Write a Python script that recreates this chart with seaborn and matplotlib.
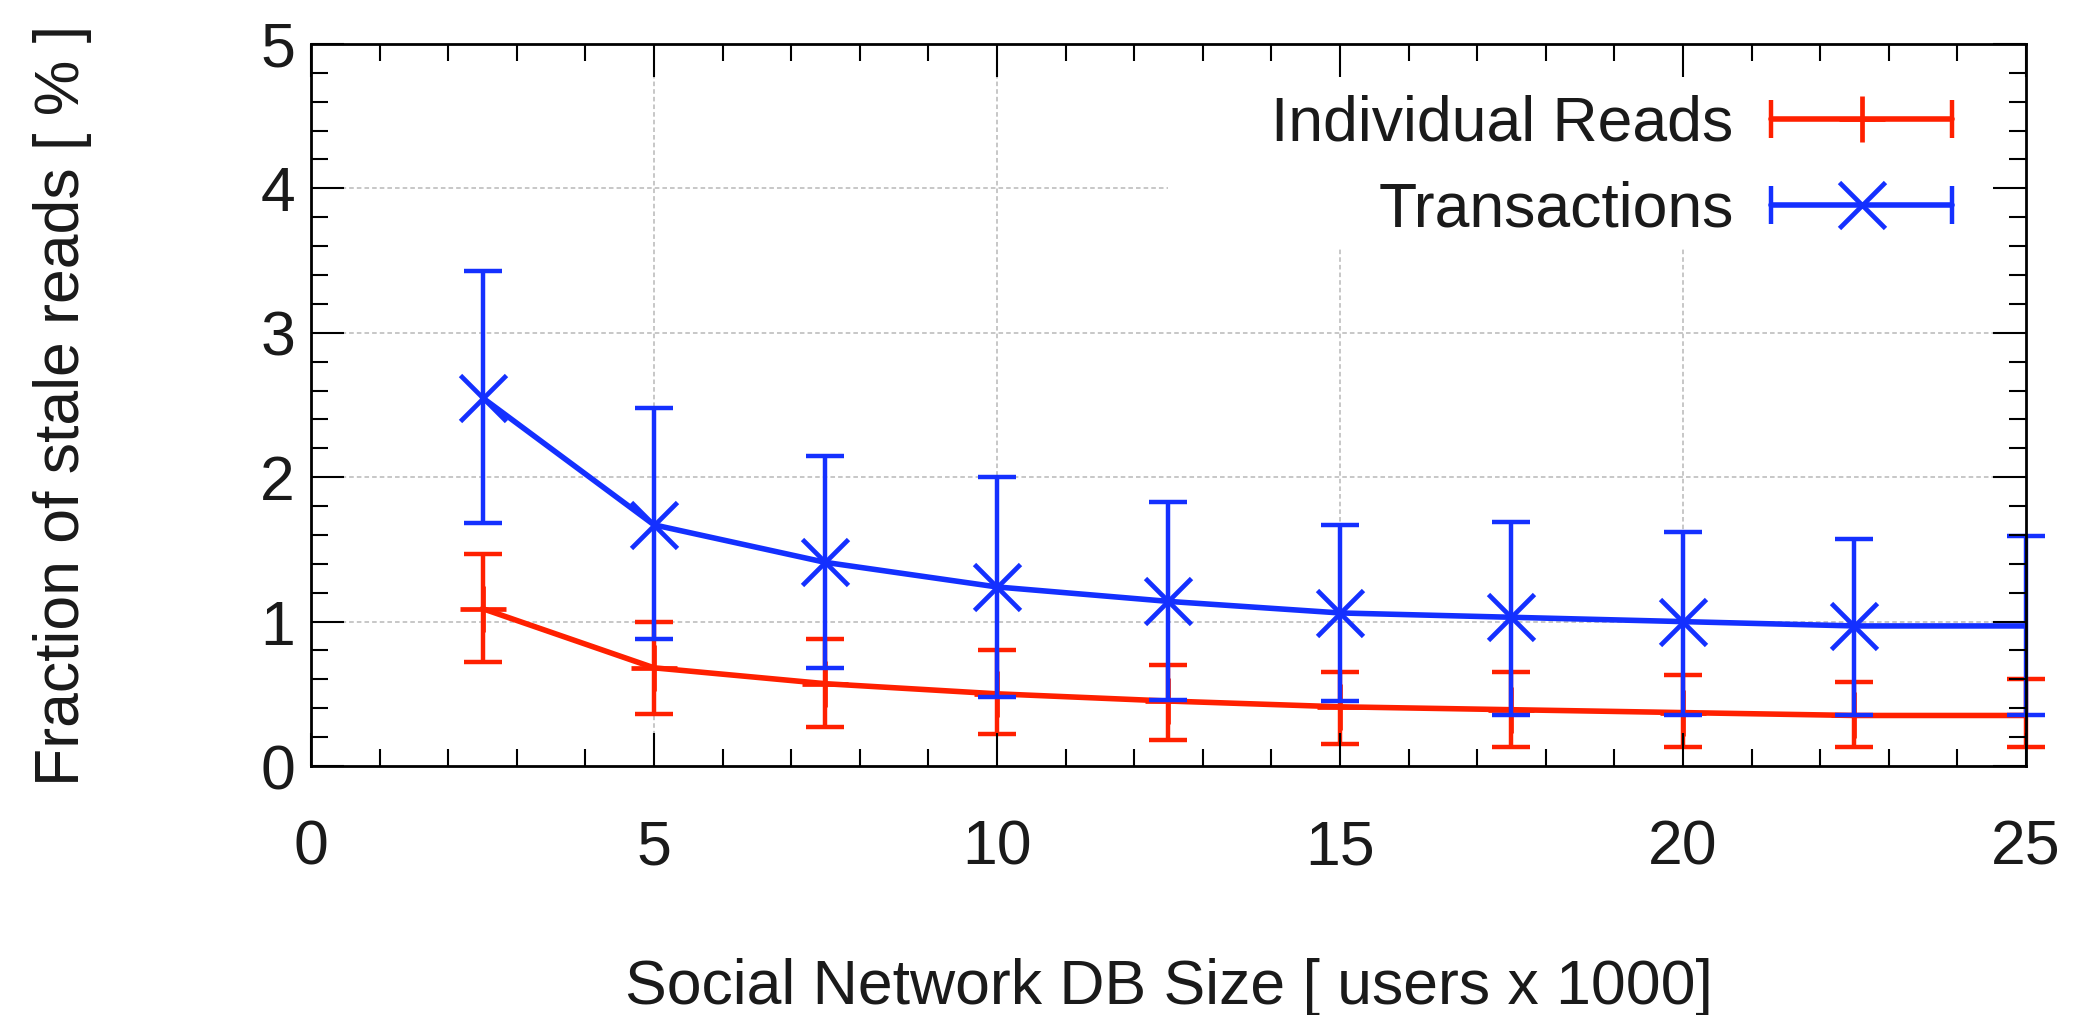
import numpy as np
import pandas as pd
import matplotlib
matplotlib.use("Agg")
import matplotlib.pyplot as plt
import seaborn as sns
from matplotlib.lines import Line2D
from matplotlib.legend_handler import HandlerLine2D
from matplotlib.patches import Rectangle
from matplotlib.ticker import MultipleLocator

# ---------------- data ----------------
db_size = [2.5, 5, 7.5, 10, 12.5, 15, 17.5, 20, 22.5, 25]

ind_mean = [1.09, 0.68, 0.57, 0.50, 0.45, 0.41, 0.39, 0.37, 0.35, 0.35]
ind_low = [0.72, 0.36, 0.27, 0.22, 0.18, 0.15, 0.13, 0.13, 0.13, 0.13]
ind_high = [1.47, 1.00, 0.88, 0.80, 0.70, 0.65, 0.65, 0.63, 0.58, 0.60]

tx_mean = [2.55, 1.67, 1.41, 1.24, 1.14, 1.06, 1.03, 1.00, 0.97, 0.97]
tx_low = [1.68, 0.88, 0.68, 0.48, 0.46, 0.45, 0.35, 0.35, 0.35, 0.35]
tx_high = [3.43, 2.48, 2.15, 2.00, 1.83, 1.67, 1.69, 1.62, 1.57, 1.59]

series_names = ["Individual Reads", "Transactions"]
x_ticks = [0, 5, 10, 15, 20, 25]
y_ticks = [0, 1, 2, 3, 4, 5]
x_label = "Social Network DB Size [ users x 1000]"
y_label = "Fraction of stale reads [ % ]"

# ---------------- style ----------------
sns.set_theme(style="ticks")
plt.rcParams["font.family"] = ["Liberation Sans", "DejaVu Sans"]

RED = "#ff2000"
BLUE = "#1430ff"
FS = 45
TXT = "#1a1a1a"

fig = plt.figure(figsize=(20.86, 10.15), dpi=100)
ax = fig.add_axes([0.1491, 0.2453, 0.8221, 0.7114])

df = pd.DataFrame({
    "size": db_size * 2,
    "value": ind_mean + tx_mean,
    "series": [series_names[0]] * len(db_size) + [series_names[1]] * len(db_size),
})

series = [
    (series_names[0], ind_mean, ind_low, ind_high, RED, "+", 33),
    (series_names[1], tx_mean, tx_low, tx_high, BLUE, "x", 33),
]

z = 2.0
for name, mean, low, high, col, mk, ms in series:
    m = np.array(mean)
    lo = m - np.array(low)
    hi = np.array(high) - m
    ax.errorbar(db_size, mean, yerr=[lo, hi], fmt="none", ecolor=col,
                elinewidth=3.2, capsize=14, capthick=3.2, clip_on=False,
                zorder=z)
    sub = df[df["series"] == name]
    sns.lineplot(data=sub, x="size", y="value", ax=ax, color=col, lw=4.0,
                 marker=mk, ms=ms, mew=3.4, mec=col, mfc=col,
                 markevery=list(range(len(db_size) - 1)),
                 zorder=z + 0.05, legend=False)
    z += 0.1

ax.set_xlim(x_ticks[0], x_ticks[-1])
ax.set_ylim(y_ticks[0], y_ticks[-1])
ax.set_xticks(x_ticks)
ax.set_yticks(y_ticks)
ax.xaxis.set_minor_locator(MultipleLocator(1))
ax.yaxis.set_minor_locator(MultipleLocator(0.2))
ax.set_axisbelow(False)

ax.tick_params(which="both", direction="in", top=True, right=True,
               width=1.5, color="black")
ax.tick_params(which="major", length=24)
ax.tick_params(which="minor", length=12)
ax.tick_params(axis="x", which="major", labelsize=FS, pad=38, labelcolor=TXT)
ax.tick_params(axis="y", which="major", labelsize=FS, pad=11.5, labelcolor=TXT)
for s in ax.spines.values():
    s.set_linewidth(2.0)
    s.set_color("black")
    s.set_visible(True)

# grid at the inner major ticks
for v in x_ticks[1:-1]:
    ax.axvline(v, color="#b8b8b8", lw=1.1, ls=(0, (3, 2)), zorder=0.3)
for v in y_ticks[1:-1]:
    ax.axhline(v, color="#b8b8b8", lw=1.1, ls=(0, (3, 2)), zorder=0.3)
# key background (masks grid behind legend, as in gnuplot)
ax.add_patch(Rectangle((0.5, 0.718), 0.5, 0.282, transform=ax.transAxes,
                       facecolor="white", edgecolor="none", zorder=0.6))

ax.set_xlabel(x_label, fontsize=FS, color=TXT)
ax.set_ylabel(y_label, fontsize=FS, color=TXT)
ax.xaxis.set_label_coords(0.5, -0.266)
ax.yaxis.set_label_coords(-0.128, 0.5)

# legend: text then sample (line with end ticks and point)
handles = []
hmap = {}
for name, mean, low, high, col, mk, ms in series:
    capl = Line2D([], [], color=col, lw=4.0, marker="|", ms=27, mew=3.2)
    mkl = Line2D([], [], color=col, ls="none", marker=mk, ms=ms, mew=3.4)
    hmap[capl] = HandlerLine2D(numpoints=2)
    handles.append((capl, mkl))

leg = ax.legend(handles=handles, labels=series_names, loc="upper right",
                bbox_to_anchor=(0.979, 0.956), borderaxespad=0, borderpad=0.3,
                frameon=False, markerfirst=False, handlelength=3.5,
                handletextpad=0.3, labelspacing=0.44, fontsize=FS,
                handler_map=hmap)
for t in leg.get_texts():
    t.set_color(TXT)

fig.savefig("out.png", dpi=100)
